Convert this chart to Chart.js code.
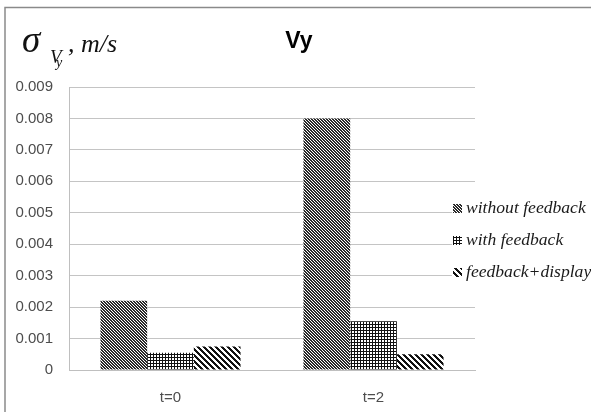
<!DOCTYPE html>
<html>
<head>
<meta charset="utf-8">
<script src="https://cdn.jsdelivr.net/npm/chart.js@4/dist/chart.umd.min.js"></script>
<style>
  html, body { margin: 0; padding: 0; background: #fff; }
  #wrap { width: 591px; height: 412px; position: relative; }
</style>
</head>
<body>
<div id="wrap"><canvas id="vyChart" width="591" height="412"></canvas></div>
<script>
const categories = ['t=0', 't=2'];
const seriesNames = ['without feedback', 'with feedback', 'feedback+display'];
const withoutFeedback = [0.0022, 0.008];
const withFeedback = [0.00055, 0.00155];
const feedbackDisplay = [0.00075, 0.0005];
const yTickMax = 0.009;
const yTickStep = 0.001;

// hatch fills like the old office chart
function makePattern(size, dark, isDark) {
    const c = document.createElement('canvas');
    c.width = size; c.height = size;
    const g = c.getContext('2d');
    g.fillStyle = '#fff';
    g.fillRect(0, 0, size, size);
    g.fillStyle = dark;
    for (let x = 0; x < size; x++) {
        for (let y = 0; y < size; y++) {
            if (isDark(x, y)) g.fillRect(x, y, 1, 1);
        }
    }
    return c;
}

const ctx = document.getElementById('vyChart').getContext('2d');
const fills = [
    ctx.createPattern(makePattern(3, '#2a2a2a', (x, y) => ((x - y) % 3 + 3) % 3 < 2), 'repeat'),
    ctx.createPattern(makePattern(3, '#111', (x, y) => x === 0 || y === 0), 'repeat'),
    ctx.createPattern(makePattern(6, '#111', (x, y) => ((x - y) % 6 + 6) % 6 < 3), 'repeat')
];

const extras = {
    id: 'extras',
    beforeDraw(chart) {
        const c = chart.ctx;
        c.save();
        c.strokeStyle = '#8a8a8a';
        c.lineWidth = 1.5;
        c.beginPath();
        c.moveTo(5, 412); c.lineTo(5, 7.5); c.lineTo(591, 7.5);
        c.stroke();
        c.restore();
    },
    afterDraw(chart) {
        const c = chart.ctx;
        c.save();
        // title
        c.fillStyle = '#000';
        c.font = 'bold 23px "Liberation Sans", Arial, sans-serif';
        c.textAlign = 'center';
        c.textBaseline = 'alphabetic';
        c.fillText('Vy', 299, 48);
        // y axis unit label
        c.textAlign = 'left';
        c.fillStyle = '#111';
        c.font = 'italic 37px "Liberation Serif", serif';
        c.fillText('σ', 22, 52);
        c.font = 'italic 19px "Liberation Serif", serif';
        c.fillText('V', 50, 63);
        c.font = 'italic 14px "Liberation Serif", serif';
        c.fillText('y', 56, 67);
        c.font = 'italic 26px "Liberation Serif", serif';
        c.fillText(', m/s', 68, 52);
        // legend
        const rowsY = [208, 240, 272];
        c.font = 'italic 17.6px "Liberation Serif", serif';
        c.textBaseline = 'middle';
        seriesNames.forEach((name, i) => {
            c.fillStyle = '#fff';
            c.fillRect(452, rowsY[i] - 10, 139, 20);
            c.fillStyle = fills[i];
            c.fillRect(453, rowsY[i] - 4, 9, 9);
            c.fillStyle = '#1a1a1a';
            c.fillText(name, 466, rowsY[i]);
        });
        c.restore();
    }
};

const chart = new Chart(ctx, {
    type: 'bar',
    data: {
        labels: categories,
        datasets: [
            { label: seriesNames[0], data: withoutFeedback, backgroundColor: fills[0] },
            { label: seriesNames[1], data: withFeedback, backgroundColor: fills[1] },
            { label: seriesNames[2], data: feedbackDisplay, backgroundColor: fills[2] }
        ]
    },
    options: {
        responsive: false,
        animation: false,
        events: [],
        layout: { padding: { left: 0, right: 116, top: 87, bottom: 0 } },
        datasets: { bar: { categoryPercentage: 0.69, barPercentage: 1.0, borderWidth: 0 } },
        plugins: { legend: { display: false }, title: { display: false }, tooltip: { enabled: false } },
        scales: {
            x: {
                grid: { display: false, drawTicks: false },
                border: { display: true, color: '#bfbfbf' },
                ticks: { padding: 19, color: '#4d4d4d', font: { family: '"Liberation Sans", Arial, sans-serif', size: 15 } },
                afterFit(scale) { scale.height = 42; }
            },
            y: {
                min: 0,
                max: yTickMax,
                grid: { color: '#c4c4c4', drawTicks: false },
                border: { display: true, color: '#bfbfbf' },
                ticks: {
                    stepSize: yTickStep,
                    padding: 16,
                    color: '#4d4d4d',
                    font: { family: '"Liberation Sans", Arial, sans-serif', size: 15 },
                    callback: v => (v === 0 ? '0' : v.toFixed(3))
                },
                afterFit(scale) { scale.width = 69; }
            }
        }
    },
    plugins: [extras]
});
</script>
</body>
</html>
